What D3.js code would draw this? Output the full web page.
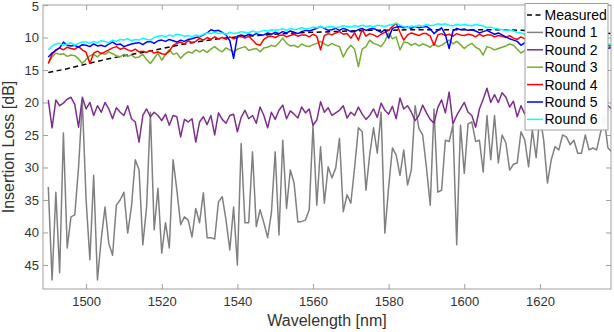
<!DOCTYPE html>
<html>
<head>
<meta charset="utf-8">
<script src="https://cdn.jsdelivr.net/npm/d3@7"></script>
<style>
  body { margin: 0; background: #fff; }
  text { font-family: "Liberation Sans", Arial, Helvetica, sans-serif; }
</style>
</head>
<body>
<div id="chart"></div>
<script>
// wavelength grid of the rounds, 1 nm steps
var wavelength = d3.range(1490, 1640);

// measured curve is given on a coarser grid
var measuredNm = [1490, 1495, 1500, 1505, 1510, 1515, 1520, 1525, 1530, 1535, 1540, 1545, 1550, 1555, 1560,
  1565, 1570, 1575, 1580, 1585, 1590, 1595, 1600, 1605, 1610, 1615, 1620, 1625, 1630, 1635, 1640];
var measured = [15.4, 14.8, 14.1, 13.4, 12.8, 12.3, 11.7, 11.1, 10.6, 10.2, 9.9, 9.7, 9.5, 9.3, 9.2,
  9.1, 9.0, 8.9, 8.9, 8.8, 8.8, 8.8, 8.8, 8.8, 8.8, 8.9, 9.0, 9.1, 9.2, 9.3, 9.4];

var round1 = [33.0, 47.3, 33.8, 46.2, 24.7, 42.4, 37.6, 37.3, 30.0, 19.8,
  35.0, 44.2, 31.2, 47.3, 41.0, 36.1, 41.7, 43.5, 35.8, 35.0,
  33.8, 40.1, 36.0, 28.8, 30.4, 41.9, 36.0, 21.5, 39.6, 33.2,
  43.2, 38.5, 42.4, 28.8, 33.5, 38.8, 37.6, 38.1, 40.7, 36.3,
  38.5, 33.9, 40.8, 40.8, 41.0, 35.3, 34.5, 38.1, 42.7, 36.1,
  45.0, 26.3, 38.5, 38.5, 27.6, 39.1, 36.5, 38.5, 40.8, 37.0,
  27.6, 40.4, 25.8, 36.3, 30.4, 32.4, 38.4, 38.3, 38.1, 36.5,
  23.5, 35.8, 26.8, 35.5, 29.9, 31.6, 30.1, 25.5, 36.8, 34.2,
  35.5, 30.0, 23.9, 24.5, 33.5, 28.0, 23.9, 27.8, 21.5, 40.1,
  33.0, 27.0, 28.1, 31.2, 27.3, 32.7, 30.4, 20.5, 24.0, 25.0,
  30.0, 35.8, 21.0, 33.8, 33.5, 25.8, 26.0, 23.5, 41.9, 23.5,
  30.9, 23.3, 23.0, 26.0, 25.8, 30.7, 22.0, 28.8, 22.0, 29.3,
  25.0, 26.2, 30.4, 29.5, 29.3, 24.5, 25.8, 29.9, 24.2, 28.5,
  22.0, 25.8, 32.4, 28.8, 26.8, 27.3, 25.0, 25.3, 26.5, 25.8,
  27.8, 27.8, 25.0, 27.3, 27.0, 27.3, 24.7, 22.5, 27.0, 27.6];

var round2 = [19.6, 23.9, 19.6, 20.5, 20.1, 19.5, 19.2, 20.3, 23.8, 19.2,
  21.0, 20.0, 22.0, 20.5, 21.5, 20.0, 21.0, 22.5, 20.8, 21.5,
  22.0, 20.5, 22.5, 23.0, 26.1, 22.0, 21.0, 22.2, 21.5, 22.0,
  22.8, 21.8, 23.5, 22.0, 22.2, 25.3, 22.6, 23.0, 22.5, 26.1,
  23.0, 22.2, 23.4, 22.0, 25.0, 21.6, 22.6, 23.2, 22.0, 21.8,
  24.5, 22.3, 21.2, 22.5, 22.0, 23.2, 20.7, 22.0, 23.9, 21.5,
  22.6, 21.2, 20.4, 22.5, 21.3, 21.8, 22.4, 20.7, 21.6, 21.0,
  23.5, 22.7, 19.9, 21.5, 20.8, 22.0, 21.6, 21.2, 20.5, 22.4,
  21.5, 22.0, 20.7, 21.8, 22.6, 22.0, 21.0, 22.3, 20.1, 21.2,
  21.8, 20.6, 22.5, 19.3, 21.0, 20.5, 21.5, 22.8, 22.0, 20.4,
  21.6, 22.6, 23.2, 20.8, 19.6, 21.6, 18.4, 23.3, 22.0, 21.0,
  20.0, 21.5, 22.0, 23.8, 21.0, 19.5, 17.8, 20.0, 18.8, 20.0,
  18.5, 19.2, 20.7, 19.8, 22.2, 20.5, 21.8, 20.5, 21.2, 19.8,
  21.0, 20.2, 21.5, 20.6, 22.0, 21.0, 20.3, 21.6, 20.8, 21.4,
  20.6, 21.8, 20.9, 21.3, 20.4, 21.7, 20.8, 21.2, 20.5, 21.0];

var round3 = [14.0, 13.0, 12.4, 12.6, 12.5, 12.9, 12.7, 12.8, 13.3, 14.0,
  13.4, 12.8, 12.6, 13.0, 12.4, 12.6, 12.2, 12.5, 12.8, 13.0,
  12.6, 12.9, 12.7, 13.1, 13.0, 12.6, 13.4, 14.0, 13.2, 12.4,
  13.5, 12.6, 11.9, 12.6, 12.4, 13.2, 12.6, 12.2, 12.4, 11.9,
  12.2, 11.9, 12.3, 11.8, 11.4, 11.9, 12.2, 11.6, 11.9, 12.3,
  11.8, 11.6, 11.4, 12.0, 11.8, 11.7, 12.2, 11.6, 11.5, 11.2,
  11.4, 10.8, 10.1, 10.9, 11.3, 11.2, 11.5, 11.0, 11.3, 11.4,
  11.1, 10.9, 10.6, 11.0, 11.3, 10.9, 11.2, 11.4, 13.0, 11.9,
  11.2, 11.8, 14.5, 11.8, 11.4, 10.4, 10.9, 11.1, 11.4, 10.6,
  9.3, 10.2, 9.9, 11.9, 10.7, 10.8, 11.2, 10.9, 11.3, 11.0,
  11.2, 11.5, 11.0, 11.4, 11.2, 10.8, 10.4, 11.0, 10.6, 11.1,
  11.7, 11.2, 10.9, 11.5, 11.8, 12.7, 11.4, 11.6, 11.9, 11.7,
  11.5, 11.3, 11.0, 11.2, 11.8, 12.4, 12.0, 11.6, 11.8, 11.5,
  11.7, 11.4, 11.9, 11.6, 11.8, 11.5, 11.9, 11.6, 11.3, 11.7,
  11.5, 11.8, 11.6, 11.4, 11.7, 11.5, 11.8, 11.6, 11.4, 11.6];

var round4 = [14.0, 12.6, 11.9, 11.6, 11.9, 11.5, 11.7, 11.8, 11.4, 11.9,
  12.3, 14.0, 12.4, 12.1, 12.5, 12.2, 11.9, 11.6, 11.4, 11.8,
  11.6, 11.9, 12.1, 11.8, 12.2, 12.1, 12.3, 12.0, 12.4, 12.2,
  12.5, 12.6, 12.1, 11.2, 10.9, 10.7, 11.0, 10.5, 10.8, 10.6,
  10.1, 10.4, 10.0, 10.3, 9.9, 10.2, 10.0, 10.3, 9.9, 10.2,
  10.0, 9.7, 10.1, 9.8, 10.4, 11.0, 11.2, 10.3, 9.9, 9.8,
  10.0, 9.7, 9.6, 9.9, 9.7, 9.5, 9.8, 9.6, 9.6, 9.9,
  9.5, 9.8, 11.9, 9.7, 9.4, 9.6, 9.3, 9.1, 9.5, 9.4,
  10.1, 9.3, 10.4, 8.8, 9.8, 9.4, 9.6, 9.9, 9.5, 9.2,
  8.9, 8.3, 7.8, 9.2, 10.4, 9.6, 9.3, 9.5, 9.7, 9.4,
  9.4, 9.8, 11.2, 9.6, 9.4, 9.7, 9.5, 9.8, 9.4, 9.6,
  9.7, 9.5, 9.6, 9.9, 9.5, 9.8, 9.6, 9.6, 9.9, 9.7,
  9.8, 10.0, 9.7, 10.1, 10.3, 9.9, 10.2, 10.5, 10.3, 10.6,
  10.4, 10.7, 10.5, 10.8, 10.6, 10.9, 10.7, 11.0, 10.8, 11.0,
  10.9, 11.1, 10.9, 11.2, 11.0, 11.3, 11.1, 11.4, 11.2, 11.3];

var round5 = [13.0, 12.4, 12.0, 11.6, 10.7, 11.2, 11.3, 11.2, 11.5, 11.1,
  11.2, 11.4, 11.0, 11.3, 11.2, 11.4, 11.0, 10.7, 11.1, 11.0,
  11.4, 11.2, 11.0, 10.9, 10.8, 11.1, 10.7, 10.6, 10.9, 10.5,
  10.4, 10.6, 10.3, 10.5, 10.7, 10.4, 10.6, 10.3, 10.2, 10.0,
  9.9, 9.6, 9.3, 8.8, 9.0, 8.9, 9.2, 9.6, 10.5, 13.2,
  9.8, 9.6, 9.8, 9.5, 9.7, 9.4, 9.6, 9.6, 9.3, 9.5,
  9.2, 9.4, 9.1, 9.3, 9.0, 9.2, 9.4, 9.1, 8.9, 9.0,
  8.8, 8.6, 8.3, 8.6, 8.9, 8.8, 8.6, 8.9, 8.6, 8.8,
  9.1, 9.1, 8.8, 8.6, 8.9, 8.7, 8.6, 8.9, 9.2, 8.8,
  10.1, 8.6, 8.4, 8.3, 8.5, 8.4, 8.6, 8.3, 8.5, 8.4,
  8.3, 8.7, 9.4, 8.9, 8.5, 9.6, 11.7, 9.0, 8.6, 8.8,
  8.7, 8.9, 8.8, 9.0, 9.3, 9.1, 8.9, 9.2, 9.5, 9.3,
  9.6, 9.9, 10.2, 10.4, 10.6, 11.2, 10.8, 10.5, 10.9, 10.6,
  10.8, 10.5, 10.9, 10.7, 11.0, 10.8, 11.1, 10.9, 11.2, 11.0,
  11.3, 11.1, 11.4, 11.2, 11.5, 11.3, 11.6, 11.4, 11.7, 11.5];

var round6 = [11.9, 11.3, 11.0, 10.9, 11.2, 11.0, 10.8, 11.2, 10.9, 10.7,
  10.7, 10.9, 10.6, 10.8, 10.5, 10.6, 10.8, 10.4, 10.6, 10.3,
  10.4, 10.2, 10.5, 10.3, 10.4, 10.1, 10.3, 10.4, 10.0, 9.8,
  9.7, 9.9, 9.6, 9.8, 9.5, 9.6, 9.8, 9.7, 9.9, 9.6,
  9.8, 9.5, 9.3, 9.4, 9.2, 9.4, 9.3, 9.5, 9.2, 9.4,
  9.3, 9.1, 9.2, 9.3, 9.0, 9.2, 9.1, 8.9, 9.0, 8.8,
  8.9, 8.8, 8.7, 8.9, 8.6, 8.8, 8.7, 8.5, 8.7, 8.6,
  8.4, 8.5, 8.3, 8.5, 8.4, 8.3, 8.5, 8.4, 8.2, 8.3,
  8.4, 8.2, 8.3, 8.1, 8.3, 8.2, 8.4, 8.1, 8.2, 8.3,
  8.1, 8.0, 7.8, 8.1, 8.3, 8.5, 8.2, 8.4, 8.1, 8.3,
  8.0, 8.2, 8.1, 7.9, 8.0, 7.9, 8.1, 8.2, 8.0, 8.1,
  8.0, 8.1, 8.2, 8.0, 8.1, 8.2, 8.5, 8.4, 8.6, 8.7,
  8.8, 8.9, 8.8, 9.0, 9.2, 9.3, 9.5, 9.7, 9.9, 10.0,
  10.1, 10.3, 10.2, 10.4, 10.3, 10.5, 10.4, 10.6, 10.5, 10.7,
  10.6, 10.8, 10.7, 10.9, 10.8, 11.0, 10.9, 11.1, 11.0, 11.1];

var seriesNames = ["Measured", "Round 1", "Round 2", "Round 3", "Round 4", "Round 5", "Round 6"];
var seriesColors = ["#000000", "#808080", "#7e2f8e", "#77ac30", "#ff0000", "#0000ff", "#00ffff"];
var xTicks = [1500, 1520, 1540, 1560, 1580, 1600, 1620];
var yTicks = [5, 10, 15, 20, 25, 30, 35, 40, 45];

// set the dimensions and margins of the graph
var margin = { top: 5, right: 3, bottom: 43, left: 43 },
  width = 614 - margin.left - margin.right,
  height = 332 - margin.top - margin.bottom;

var axisColor = "#a0a0a0";
var textColor = "#333333";

var svg = d3.select("#chart")
  .append("svg")
  .attr("width", width + margin.left + margin.right)
  .attr("height", height + margin.top + margin.bottom)
  .append("g")
  .attr("transform", "translate(" + margin.left + "," + margin.top + ")");

var x = d3.scaleLinear().domain([1488.6, 1638.8]).range([0, width]);
// insertion loss axis is reversed: small loss at the top
var y = d3.scaleLinear().domain([5, 48.7]).range([0, height]);

svg.append("clipPath").attr("id", "plotclip")
  .append("rect").attr("width", width).attr("height", height);

// axes, ticks pointing inward on all sides
function styleAxis(g) {
  g.select(".domain").remove();
  g.selectAll(".tick line").attr("stroke", axisColor);
  g.selectAll(".tick text").attr("fill", textColor).style("font-size", "13px")
    .style("font-family", '"Liberation Sans", Arial, sans-serif');
}

svg.append("g")
  .attr("transform", "translate(0," + height + ")")
  .call(d3.axisBottom(x).tickValues(xTicks).tickFormat(d3.format("d"))
    .tickSizeInner(-5).tickSizeOuter(0).tickPadding(8))
  .call(styleAxis);
svg.append("g")
  .call(d3.axisTop(x).tickValues(xTicks).tickSizeInner(-5).tickSizeOuter(0).tickFormat(""))
  .call(styleAxis);
var yAxisG = svg.append("g")
  .call(d3.axisLeft(y).tickValues(yTicks).tickFormat(d3.format("d"))
    .tickSizeInner(-5).tickSizeOuter(0).tickPadding(4))
  .call(styleAxis);
// keep the top label inside the page
yAxisG.selectAll(".tick text").filter(function (d) { return d === 5; }).attr("dy", "0.42em");
svg.append("g")
  .attr("transform", "translate(" + width + ",0)")
  .call(d3.axisRight(y).tickValues(yTicks).tickSizeInner(-5).tickSizeOuter(0).tickFormat(""))
  .call(styleAxis);

// the lines
var line = d3.line()
  .x(function (d) { return x(d[0]); })
  .y(function (d) { return y(d[1]); });

var seriesData = [
  d3.zip(measuredNm, measured),
  d3.zip(wavelength, round1),
  d3.zip(wavelength, round2),
  d3.zip(wavelength, round3),
  d3.zip(wavelength, round4),
  d3.zip(wavelength, round5),
  d3.zip(wavelength, round6)
];

svg.append("g")
  .attr("clip-path", "url(#plotclip)")
  .selectAll("path")
  .data(seriesData)
  .enter()
  .append("path")
  .attr("d", line)
  .attr("fill", "none")
  .attr("stroke", function (d, i) { return seriesColors[i]; })
  .attr("stroke-width", 1.5)
  .attr("stroke-dasharray", function (d, i) { return i === 0 ? "5,3.5" : null; })
  .attr("stroke-linejoin", "round");

// box
svg.append("rect")
  .attr("width", width)
  .attr("height", height)
  .attr("fill", "none")
  .attr("stroke", axisColor)
  .attr("stroke-width", 1);

// axis titles
svg.append("text")
  .attr("text-anchor", "middle")
  .attr("x", width / 2)
  .attr("y", height + 37)
  .attr("fill", textColor)
  .style("font-size", "16px")
  .text("Wavelength [nm]");

svg.append("text")
  .attr("text-anchor", "middle")
  .attr("transform", "rotate(-90)")
  .attr("x", -height / 2)
  .attr("y", -29)
  .attr("fill", textColor)
  .style("font-size", "16px")
  .text("Insertion Loss [dB]");

// legend, top right inside the axes
var legend = svg.append("g")
  .attr("transform", "translate(482,-1.5)");

legend.append("rect")
  .attr("width", 83)
  .attr("height", 126.5)
  .attr("fill", "#ffffff")
  .attr("stroke", axisColor);

legend.selectAll("line")
  .data(seriesNames)
  .enter()
  .append("line")
  .attr("x1", 2)
  .attr("x2", 18)
  .attr("y1", function (d, i) { return 11.5 + i * 17.4; })
  .attr("y2", function (d, i) { return 11.5 + i * 17.4; })
  .attr("stroke", function (d, i) { return seriesColors[i]; })
  .attr("stroke-width", 1.5)
  .attr("stroke-dasharray", function (d, i) { return i === 0 ? "5,3.5" : null; });

legend.selectAll("text")
  .data(seriesNames)
  .enter()
  .append("text")
  .attr("x", 19.5)
  .attr("y", function (d, i) { return 11.5 + i * 17.4; })
  .attr("dy", "0.35em")
  .attr("fill", "#000000")
  .style("font-size", "14px")
  .text(function (d) { return d; });
</script>
</body>
</html>
